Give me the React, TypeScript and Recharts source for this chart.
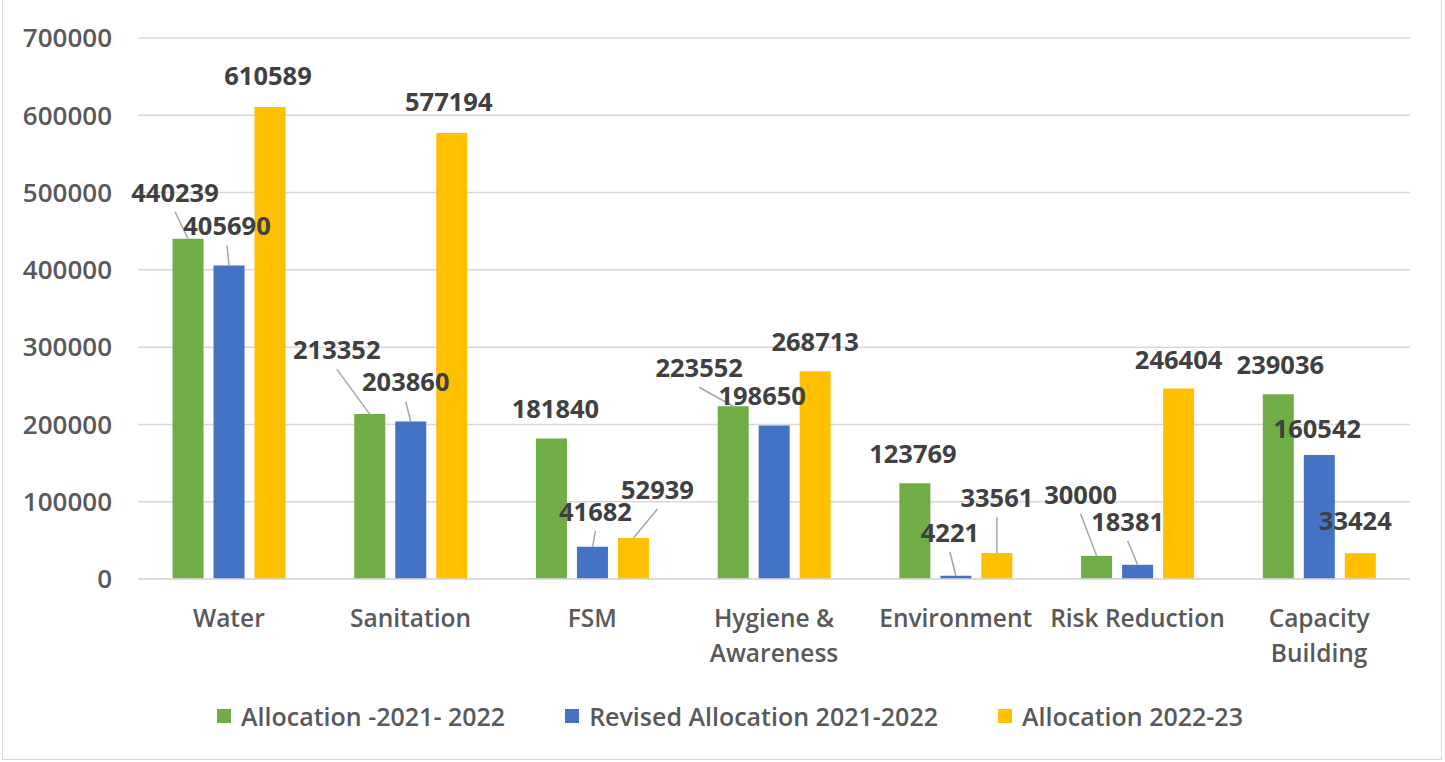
import React from "react";
import { BarChart, Bar, XAxis, YAxis, CartesianGrid, Legend, LabelList } from "recharts";

const categories = ["Water", "Sanitation", "FSM", "Hygiene &\nAwareness", "Environment", "Risk Reduction", "Capacity\nBuilding"];
const allocation2122 = [440239, 213352, 181840, 223552, 123769, 30000, 239036];
const revised2122 = [405690, 203860, 41682, 198650, 4221, 18381, 160542];
const allocation2223 = [610589, 577194, 52939, 268713, 33561, 246404, 33424];
const yTicks = [0, 100000, 200000, 300000, 400000, 500000, 600000, 700000];

const series = [
  { key: "a2122", name: "Allocation -2021- 2022", values: allocation2122, color: "#70AD47" },
  { key: "r2122", name: "Revised Allocation 2021-2022", values: revised2122, color: "#4472C4" },
  { key: "a2223", name: "Allocation 2022-23", values: allocation2223, color: "#FFC000" },
];

// label nudges (dx, dy) away from the default spot above each bar, and whether a leader line is drawn
const labelShift: Record<string, [number, number, boolean][]> = {
  a2122: [[-13, -17, true], [-33, -35, true], [4, 0, false], [-34, -9, true], [-2, 0, false], [-16, -32, true], [2, 0, false]],
  r2122: [[-2, -10, true], [-5, -10, true], [3, -6, true], [-12, 0, false], [-6, -14, true], [-10, -14, true], [-2, 3, false]],
  a2223: [[-2, -2, false], [-3, -2, false], [24, -19, true], [0, 0, false], [0, -26, true], [0, 0, false], [-5, -3, false]],
};

const font = "'Open Sans', sans-serif";

const data = categories.map((name, i) => {
  const row: Record<string, string | number> = { name };
  series.forEach((s) => (row[s.key] = s.values[i]));
  return row;
});

function makeLabel(key: string) {
  return (props: any) => {
    const { x, y, width, value, index } = props;
    const [dx, dy, leader] = labelShift[key][index];
    const cx = x + width / 2;
    const lx = cx + dx;
    const ly = y - 30 + dy;
    return (
      <g>
        {leader && <line x1={lx} y1={ly + 20} x2={cx} y2={y} stroke="#a6a6a6" strokeWidth={1.5} />}
        <text x={lx} y={ly} textAnchor="middle" dominantBaseline="central" fontFamily={font} fontSize={25.5} fontWeight={700} fill="#404040">
          {value}
        </text>
      </g>
    );
  };
}

function CategoryTick({ x, y, payload }: any) {
  const lines = String(payload.value).split("\n");
  return (
    <text x={x} textAnchor="middle" fontFamily={font} fontSize={24.5} fontWeight={600} fill="#595959">
      {lines.map((line, i) => (
        <tspan key={i} x={x} y={y + 30 + i * 35} dominantBaseline="central">
          {line}
        </tspan>
      ))}
    </text>
  );
}

function LegendContent() {
  return (
    <div style={{ height: 34, paddingLeft: 32, display: "flex", justifyContent: "center", alignItems: "center", gap: 60, fontFamily: font, fontSize: 25, fontWeight: 600, color: "#595959" }}>
      {series.map((s) => (
        <div key={s.key} style={{ display: "flex", alignItems: "center", gap: 10 }}>
          <span style={{ width: 14, height: 14, background: s.color, display: "inline-block" }} />
          <span>{s.name}</span>
        </div>
      ))}
    </div>
  );
}

export default function App() {
  return (
    <div style={{ position: "absolute", left: 0, top: 0, width: 1445, height: 762, background: "#fff" }}>
      <div style={{ position: "absolute", left: 2, top: -2, width: 1440, height: 762, border: "1px solid #d9d9d9", boxSizing: "border-box" }} />
      <BarChart width={1445} height={762} data={data} margin={{ top: 38, right: 35, left: 18, bottom: 29 }} barCategoryGap="19%" barGap={10}>
        <CartesianGrid vertical={false} stroke="#d9d9d9" strokeWidth={1.5} />
        <XAxis dataKey="name" height={120} tick={<CategoryTick />} tickLine={false} axisLine={{ stroke: "#d9d9d9", strokeWidth: 1.5 }} interval={0} />
        <YAxis
          width={120}
          domain={[0, 700000]}
          ticks={yTicks}
          tickLine={false}
          axisLine={false}
          tickSize={10}
          tickMargin={16}
          tick={{ fontFamily: font, fontSize: 26, fontWeight: 600, fill: "#595959" }}
        />
        <Legend verticalAlign="bottom" content={<LegendContent />} />
        {series.map((s) => (
          <Bar key={s.key} dataKey={s.key} name={s.name} fill={s.color} isAnimationActive={false}>
            <LabelList dataKey={s.key} content={makeLabel(s.key)} />
          </Bar>
        ))}
      </BarChart>
    </div>
  );
}
